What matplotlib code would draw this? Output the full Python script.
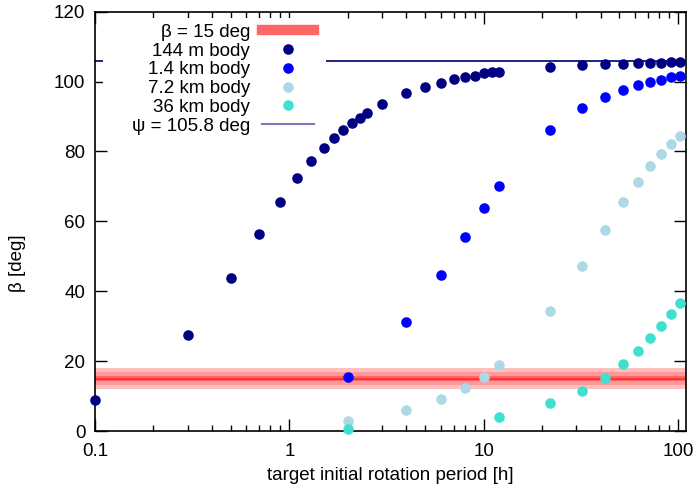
import matplotlib
matplotlib.use("Agg")
import matplotlib.pyplot as plt
from matplotlib.lines import Line2D
from matplotlib.patches import Rectangle

plt.rcParams['font.family'] = ['Liberation Sans', 'DejaVu Sans']
FS = 13.5
plt.rcParams['font.size'] = FS

# ---- data ----
period_144m = [0.1, 0.3, 0.5, 0.7, 0.9, 1.1, 1.3, 1.5, 1.7, 1.9, 2.1, 2.3, 2.5, 3, 4, 5, 6, 7, 8, 9,
               10, 11, 12, 22, 32, 42, 52, 62, 72, 82, 92, 102]
beta_144m = [8.9, 27.6, 43.9, 56.5, 65.6, 72.3, 77.3, 81.0, 83.9, 86.2, 88.2, 89.7, 91.0, 93.5, 96.7,
             98.5, 99.7, 100.7, 101.3, 101.7, 102.4, 102.7, 102.8, 104.3, 104.7, 105.0, 105.1, 105.3,
             105.4, 105.4, 105.5, 105.5]

period_1p4km = [2, 4, 6, 8, 10, 12, 22, 32, 42, 52, 62, 72, 82, 92, 102]
beta_1p4km = [15.5, 31.1, 44.7, 55.5, 63.7, 70.0, 86.1, 92.3, 95.6, 97.5, 98.9, 99.9, 100.5, 101.2, 101.6]

period_7p2km = [2, 4, 6, 8, 10, 12, 22, 32, 42, 52, 62, 72, 82, 92, 102]
beta_7p2km = [3.0, 6.0, 9.25, 12.4, 15.5, 18.8, 34.3, 47.3, 57.6, 65.4, 71.3, 75.8, 79.4, 82.2, 84.5]

period_36km = [2, 12, 22, 32, 42, 52, 62, 72, 82, 92, 102]
beta_36km = [0.7, 4.1, 7.9, 11.5, 15.3, 19.1, 22.9, 26.7, 30.1, 33.4, 36.7]

beta_ref = 15.0
beta_bands = [3.0, 1.8, 0.7]   # half-widths of shaded bands
psi = 105.8

x_ticks = [0.1, 1, 10, 100]
x_ticklabels = ['0.1', '1', '10', '100']
y_ticks = [0, 20, 40, 60, 80, 100, 120]

# ---- figure ----
fig = plt.figure(figsize=(6.97, 4.95), dpi=100)
ax = fig.add_axes([95/697, 1 - 431/495, 591/697, (431 - 11.7)/495])

band_colors = ['#ffbfbf', '#ff9999', '#ff6868']
for hw, c in zip(beta_bands, band_colors):
    ax.axhspan(beta_ref - hw, beta_ref + hw, color=c, lw=0, zorder=1)
ax.axhline(beta_ref, color='#ff2a2a', lw=1.2, zorder=1.5)

ax.axhline(psi, color='#10107a', lw=1.3, zorder=2)

# opaque key area
ax.add_patch(Rectangle((0.0135, 0.711), 0.3775, 0.275, transform=ax.transAxes,
                       facecolor='white', edgecolor='none', zorder=2.5))

ms = 7.6
ax.plot(period_144m, beta_144m, 'o', color='#000080', ms=ms, mew=0, zorder=3, clip_on=False)
ax.plot(period_1p4km, beta_1p4km, 'o', color='#0000ff', ms=ms, mew=0, zorder=3, clip_on=False)
ax.plot(period_7p2km, beta_7p2km, 'o', color='#add8e6', ms=ms, mew=0, zorder=3, clip_on=False)
ax.plot(period_36km, beta_36km, 'o', color='#40e0d0', ms=ms, mew=0, zorder=3, clip_on=False)

ax.set_xscale('log')
ax.set_xlim(0.1, 110)
ax.set_ylim(0, 120)
ax.set_xticks(x_ticks)
ax.set_xticklabels(x_ticklabels)
ax.set_yticks(y_ticks)
ax.tick_params(which='both', direction='in', top=True, right=True, labelsize=FS)
ax.tick_params(axis='x', pad=9)
ax.tick_params(axis='y', pad=7)
ax.tick_params(which='major', length=8.5, width=1)
ax.tick_params(which='minor', length=4.3, width=1)
ax.minorticks_on()
ax.yaxis.set_minor_locator(matplotlib.ticker.NullLocator())
for s in ax.spines.values():
    s.set_linewidth(1.2)

ax.set_xlabel('target initial rotation period [h]', fontsize=FS)
ax.set_ylabel('β [deg]', fontsize=FS)
ax.xaxis.set_label_coords(0.5, -0.087)
ax.yaxis.set_label_coords(-0.117, 0.4)

handles = [
    Line2D([], [], color='#ff6666', lw=7.5),
    Line2D([], [], ls='none', marker='o', color='#000080', ms=ms, mew=0),
    Line2D([], [], ls='none', marker='o', color='#0000ff', ms=ms, mew=0),
    Line2D([], [], ls='none', marker='o', color='#add8e6', ms=ms, mew=0),
    Line2D([], [], ls='none', marker='o', color='#40e0d0', ms=ms, mew=0),
    Line2D([], [], color='#7878c0', lw=1.5),
]
labels = ['β = 15 deg', '144 m body', '1.4 km body', '7.2 km body', '36 km body', 'ψ = 105.8 deg']
leg = ax.legend(handles, labels, loc='upper right', bbox_to_anchor=(0.3706, 0.971),
                frameon=False, markerfirst=False, handlelength=2.77, handletextpad=0.64,
                labelspacing=0.085, borderpad=0, borderaxespad=0, fontsize=FS)
leg.set_zorder(4)

fig.savefig('out.png', dpi=100)
